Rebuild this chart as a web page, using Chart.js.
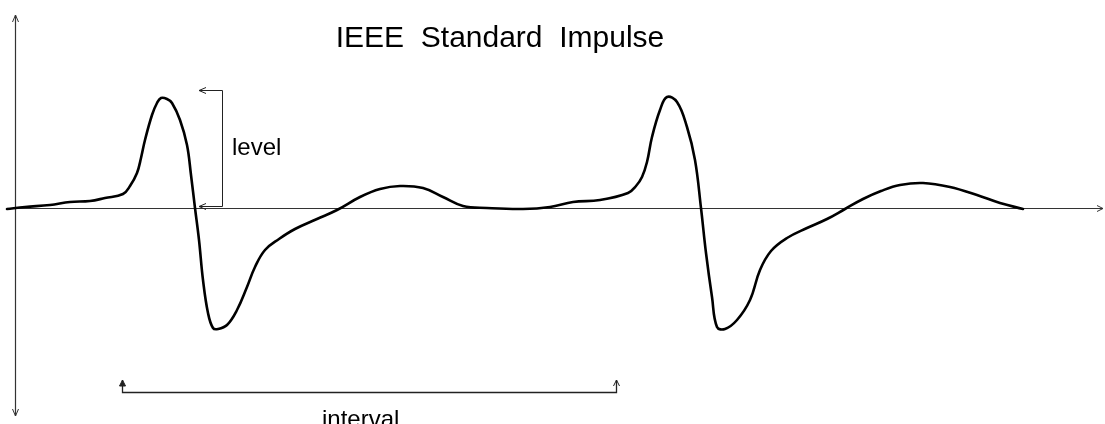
<!DOCTYPE html>
<html>
<head>
<meta charset="utf-8">
<title>IEEE Standard Impulse</title>
<script src="https://cdn.jsdelivr.net/npm/chart.js@4/dist/chart.umd.min.js"></script>
<style>
  html, body { margin: 0; padding: 0; background: #fff; }
  #wrap { width: 1105px; height: 424px; position: relative; }
</style>
</head>
<body>
<div id="wrap"><canvas id="impulseChart"></canvas></div>
<script>
// time (arbitrary units) and amplitude
const timeValues = [
  -8, 10, 35, 55, 75, 90, 108, 115, 122, 126, 130, 137, 142, 146, 152, 157, 165, 172, 176, 180,
  184, 188, 193, 198, 203, 212, 222, 232, 240, 250, 264, 280, 302, 322, 345, 365, 385, 408, 428,
  448, 472, 508, 535, 558, 585, 613, 621, 627, 632, 637, 645, 652, 662, 672, 680, 686, 691, 697, 702,
  710, 722, 735, 745, 756, 772, 792, 812, 830, 848, 866, 885, 908, 935, 962, 985, 1008
];
const amplitudeValues = [
  -1, 1, 3, 6, 7, 10, 14, 22, 35, 50, 68, 93, 105, 110, 109, 105, 88, 63, 33, 0,
  -32, -72, -105, -120, -121, -117, -102, -79, -59, -42, -31, -21, -11, -2, 11, 19, 22, 20, 11,
  2, 0, -1, 1, 6, 8, 15, 22, 31, 46, 71, 98, 111, 106, 81, 48, 0, -45, -89, -119,
  -121, -112, -92, -62, -43, -30, -20, -11, -1, 9, 17, 23, 25, 21, 13, 5, -1
];

// axis extents
const xAxisRange = [-8, 1088];
const yAxisRange = [-208, 193];

// annotation positions (same units as the data)
const levelMarker = { x: 207, tipX: 184, top: 118, bottom: 2 };
const intervalMarker = { y: -184, tipY: -172, from: 107, to: 601 };

const titleText = "IEEE  Standard  Impulse";
const levelLabel = "level";
const intervalLabel = "interval";

const FONT = "'Liberation Sans', Arial, Helvetica, sans-serif";

function arrowHead(ctx, tx, ty, dx, dy, len, half, filled) {
  // dx,dy: unit direction the arrow points to
  const bx = tx - dx * len, by = ty - dy * len;
  const px = -dy * half, py = dx * half;
  ctx.beginPath();
  ctx.moveTo(bx + px, by + py);
  ctx.lineTo(tx, ty);
  ctx.lineTo(bx - px, by - py);
  if (filled) {
    ctx.closePath();
    ctx.fill();
  }
  ctx.stroke();
}

const sketchPlugin = {
  id: "sketch",
  beforeDatasetsDraw(chart) {
    const { ctx, scales: { x, y } } = chart;
    ctx.save();
    ctx.strokeStyle = "#333";
    ctx.fillStyle = "#333";
    ctx.lineWidth = 1.2;

    // horizontal axis
    const y0 = Math.round(y.getPixelForValue(0)) + 0.5;
    const xs = x.getPixelForValue(xAxisRange[0]);
    const xe = x.getPixelForValue(xAxisRange[1]);
    ctx.beginPath();
    ctx.moveTo(xs, y0);
    ctx.lineTo(xe, y0);
    ctx.stroke();
    ctx.lineWidth = 1;
    arrowHead(ctx, xe, y0, 1, 0, 6, 3, false);

    // vertical axis, arrows both ends
    const x0 = Math.round(x.getPixelForValue(0)) + 0.5;
    const yt = y.getPixelForValue(yAxisRange[1]);
    const yb = y.getPixelForValue(yAxisRange[0]);
    ctx.lineWidth = 1.2;
    ctx.beginPath();
    ctx.moveTo(x0, yt);
    ctx.lineTo(x0, yb);
    ctx.stroke();
    ctx.lineWidth = 1;
    arrowHead(ctx, x0, yt, 0, -1, 7, 3, false);
    arrowHead(ctx, x0, yb, 0, 1, 7, 3, false);
    ctx.restore();
  },
  afterDraw(chart) {
    const { ctx, scales: { x, y } } = chart;
    ctx.save();
    ctx.strokeStyle = "#222";
    ctx.fillStyle = "#222";
    ctx.lineWidth = 1;

    // level bracket
    const lx = Math.round(x.getPixelForValue(levelMarker.x)) + 0.5;
    const ltip = x.getPixelForValue(levelMarker.tipX);
    const lt = Math.round(y.getPixelForValue(levelMarker.top)) + 0.5;
    const lb = Math.round(y.getPixelForValue(levelMarker.bottom)) + 0.5;
    ctx.beginPath();
    ctx.moveTo(ltip, lt);
    ctx.lineTo(lx, lt);
    ctx.lineTo(lx, lb);
    ctx.lineTo(ltip, lb);
    ctx.stroke();
    arrowHead(ctx, ltip, lt, -1, 0, 7, 3, false);
    arrowHead(ctx, ltip, lb, -1, 0, 7, 3, false);

    // interval bracket
    const iy = Math.round(y.getPixelForValue(intervalMarker.y)) + 0.5;
    const itip = y.getPixelForValue(intervalMarker.tipY);
    const ia = Math.round(x.getPixelForValue(intervalMarker.from)) + 0.5;
    const ib = Math.round(x.getPixelForValue(intervalMarker.to)) + 0.5;
    ctx.lineWidth = 1.3;
    ctx.beginPath();
    ctx.moveTo(ia, itip);
    ctx.lineTo(ia, iy);
    ctx.lineTo(ib, iy);
    ctx.lineTo(ib, itip);
    ctx.stroke();
    ctx.lineWidth = 1;
    arrowHead(ctx, ia, itip, 0, -1, 6, 3, true);
    arrowHead(ctx, ib, itip, 0, -1, 6, 3, false);

    // texts
    ctx.fillStyle = "#000";
    ctx.textBaseline = "alphabetic";
    ctx.textAlign = "center";
    ctx.font = "30px " + FONT;
    ctx.fillText(titleText, x.getPixelForValue(485), y.getPixelForValue(161));
    ctx.textAlign = "left";
    ctx.font = "24px " + FONT;
    ctx.fillText(levelLabel, x.getPixelForValue(217), y.getPixelForValue(53));
    ctx.fillText(intervalLabel, x.getPixelForValue(307), y.getPixelForValue(-219));
    ctx.restore();
  }
};

const points = timeValues.map((t, i) => ({ x: t, y: amplitudeValues[i] }));

new Chart(document.getElementById("impulseChart").getContext("2d"), {
  type: "line",
  data: {
    datasets: [
      {
        label: "impulse",
        data: points,
        borderColor: "#000",
        borderWidth: 2.6,
        borderJoinStyle: "round",
        borderCapStyle: "round",
        pointRadius: 0,
        fill: false,
        tension: 0.4,
        clip: false,
      },
    ],
  },
  options: {
    responsive: true,
    maintainAspectRatio: false,
    animation: false,
    layout: { padding: 0 },
    plugins: {
      legend: { display: false },
      tooltip: { enabled: false },
      title: { display: false },
    },
    scales: {
      x: { type: "linear", min: -15, max: 1090, display: false },
      y: { type: "linear", min: -216, max: 208, display: false },
    },
  },
  plugins: [sketchPlugin],
});
</script>
</body>
</html>
